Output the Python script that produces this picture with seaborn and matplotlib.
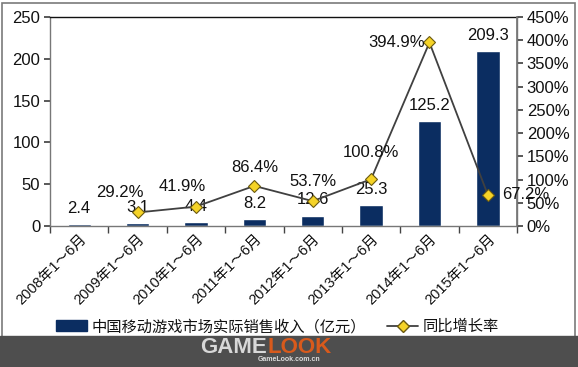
import numpy as np
import pandas as pd
import matplotlib
matplotlib.use('Agg')
import matplotlib.pyplot as plt
import seaborn as sns
from matplotlib.patches import Rectangle
from matplotlib.lines import Line2D

periods = ['2008年1～6月', '2009年1～6月', '2010年1～6月', '2011年1～6月',
           '2012年1～6月', '2013年1～6月', '2014年1～6月', '2015年1～6月']
revenue = [2.4, 3.1, 4.4, 8.2, 12.6, 25.3, 125.2, 209.3]
growth = [np.nan, 29.2, 41.9, 86.4, 53.7, 100.8, 394.9, 67.2]
growth_labels = ['', '29.2%', '41.9%', '86.4%', '53.7%', '100.8%', '394.9%', '67.2%']
bar_name = '中国移动游戏市场实际销售收入（亿元）'
line_name = '同比增长率'

sns.set_theme(style='white')
plt.rcParams['font.family'] = ['Liberation Sans', 'Noto Sans CJK SC', 'DejaVu Sans']

df = pd.DataFrame({'period': periods, 'revenue': revenue, 'growth': growth})
navy = '#0b2d61'
fs = 12

fig = plt.figure(figsize=(5.78, 3.67), dpi=100)
ax = fig.add_axes([0.0865, 0.384, 0.808, 0.57])
sns.barplot(data=df, x='period', y='revenue', color=navy, width=0.4, ax=ax,
            saturation=1)
ax.set_ylim(0, 250)
ax.set_yticks(range(0, 251, 50))
ax.set_xlabel('')
ax.set_ylabel('')
ax.tick_params(axis='y', labelsize=fs, pad=3, length=4, direction='out',
               left=True, color='#444444', labelcolor='#111111')
ax.set_xticks(np.arange(len(periods) + 1) - 0.5, minor=True)
ax.tick_params(axis='x', which='minor', length=5, bottom=True, color='#444444')
ax.tick_params(axis='x', which='major', length=0, labelsize=10.5, pad=4,
               labelcolor='#111111')
plt.setp(ax.get_xticklabels(), rotation=45, ha='right', rotation_mode='anchor')
ax.set_xlim(-0.5, len(periods) - 0.5)
for s in ['left', 'bottom', 'right']:
    ax.spines[s].set_color('#777777')
    ax.spines[s].set_linewidth(1)
ax.spines['top'].set_color('#111111')
ax.spines['top'].set_linewidth(1)

for i, v in enumerate(revenue):
    ax.annotate(f'{v}', (i, v), xytext=(0, 6), textcoords='offset points',
                ha='center', va='bottom', fontsize=fs, color='#111111')

ax2 = ax.twinx()
sns.lineplot(x=np.arange(len(periods)), y=growth, ax=ax2, color='#404040', lw=1.3,
             marker='D', markersize=6.5, markerfacecolor='#f5d327',
             markeredgecolor='#6b5a10', markeredgewidth=0.8)
ax2.set_ylim(0, 450)
ax2.set_yticks(range(0, 451, 50))
ax2.set_yticklabels([f'{t}%' for t in range(0, 451, 50)])
ax2.tick_params(axis='y', labelsize=fs, pad=3, length=4, direction='out',
                right=True, color='#444444', labelcolor='#111111')
ax2.set_ylabel('')
for s in ['left', 'bottom', 'top']:
    ax2.spines[s].set_visible(False)
ax2.spines['right'].set_color('#777777')

offsets = {1: (-13, 9, 'center', 'bottom'), 2: (-10, 9, 'center', 'bottom'),
           3: (0, 8, 'center', 'bottom'), 4: (0, 9, 'center', 'bottom'),
           5: (0, 14, 'center', 'bottom'), 6: (-3, 0, 'right', 'center'),
           7: (10, 0, 'left', 'center')}
for i, (g, lab) in enumerate(zip(growth, growth_labels)):
    if not lab:
        continue
    dx, dy, ha, va = offsets[i]
    ax2.annotate(lab, (i, g), xytext=(dx, dy), textcoords='offset points',
                 ha=ha, va=va, fontsize=fs, color='#111111')

handles = [Rectangle((0, 0), 1, 1, color=navy),
           Line2D([], [], color='#404040', lw=1.3, marker='D', markersize=6.5,
                  markerfacecolor='#f5d327', markeredgecolor='#6b5a10')]
fig.legend(handles, [bar_name, line_name], loc='center', bbox_to_anchor=(0.48, 0.11),
           ncol=2, frameon=False, fontsize=11, handlelength=2.0, columnspacing=1.4,
           handletextpad=0.3, labelcolor='#111111')

# outer frame and bottom banner
fig.patches.append(Rectangle((0.004, 0.04), 0.991, 0.953, transform=fig.transFigure,
                             fill=False, edgecolor='#7a7a7a', lw=1.2))
fig.patches.append(Rectangle((0, 0), 1, 31 / 367, transform=fig.transFigure,
                             color='#4e4e4e', zorder=5))
fig.text(0.462, 0.052, 'GAME', ha='right', va='center', fontsize=16, weight='bold',
         color='#d8d8d8', zorder=6)
fig.text(0.462, 0.052, 'LOOK', ha='left', va='center', fontsize=16, weight='bold',
         color='#d85a1c', zorder=6)
fig.text(0.5, 0.01, 'GameLook.com.cn', ha='center', va='bottom', fontsize=5,
         weight='bold', color='#dddddd', zorder=6)

fig.savefig('out.png', dpi=100)
